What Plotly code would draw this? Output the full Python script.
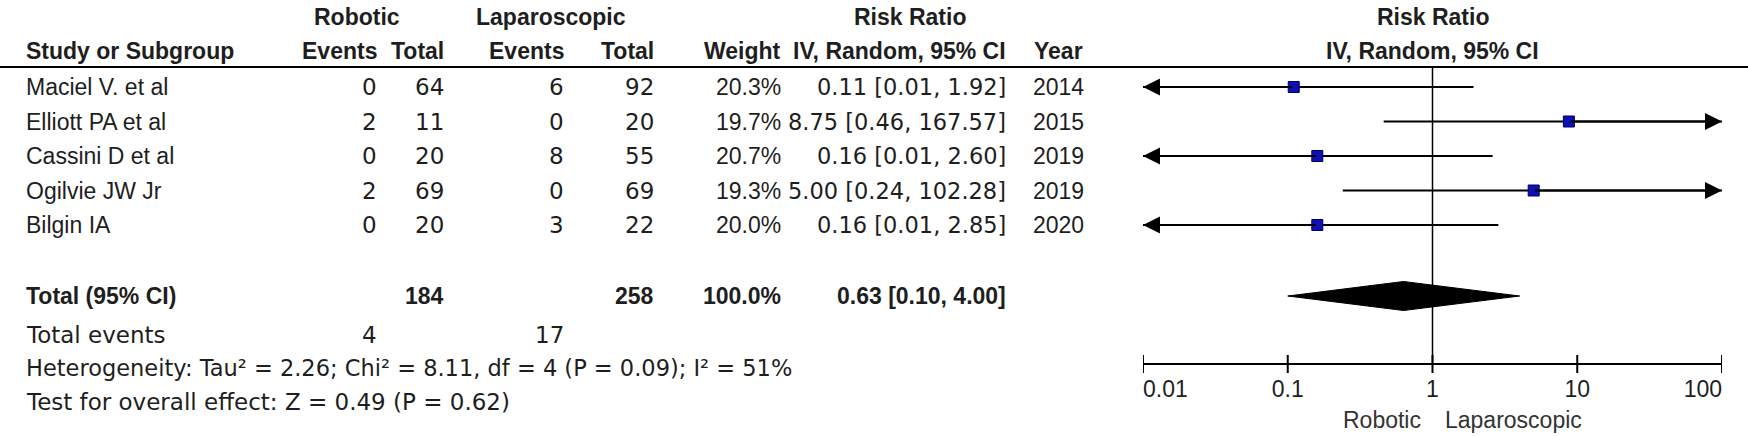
import math
import plotly.graph_objects as go

# ---------------- data ----------------
studies = ["Maciel V. et al", "Elliott PA et al", "Cassini D et al", "Ogilvie JW Jr", "Bilgin IA"]
rob_events = [0, 2, 0, 2, 0]
rob_total = [64, 11, 20, 69, 20]
lap_events = [6, 0, 8, 0, 3]
lap_total = [92, 20, 55, 69, 22]
weights = [20.3, 19.7, 20.7, 19.3, 20.0]
rr = [0.11, 8.75, 0.16, 5.00, 0.16]
ci_lo = [0.01, 0.46, 0.01, 0.24, 0.01]
ci_hi = [1.92, 167.57, 2.60, 102.28, 2.85]
years = [2014, 2015, 2019, 2019, 2020]

total_rob = 184
total_lap = 258
total_weight = 100.0
events_rob = 4
events_lap = 17
pooled_rr = 0.63
pooled_lo = 0.10
pooled_hi = 4.00
heterogeneity = "Heterogeneity: Tau² = 2.26; Chi² = 8.11, df = 4 (P = 0.09); I² = 51%"
overall = "Test for overall effect: Z = 0.49 (P = 0.62)"
axis_ticks = [0.01, 0.1, 1, 10, 100]
tick_labels = ["0.01", "0.1", "1", "10", "100"]
favours_left = "Robotic"
favours_right = "Laparoscopic"

# ---------------- layout constants (pixels) ----------------
W, H = 1748, 436
PX0, PX1 = 1143, 1722          # forest plot horizontal extent
HDR1_Y, HDR2_Y, RULE_Y = 17, 51, 67
ROW0, ROWH = 87, 34.5
TOTAL_Y, EVENTS_Y, HET_Y, TEST_Y = 296, 335, 368, 402
AXIS_Y, TICK_HALF, TICKLAB_Y, FAV_Y = 364, 9, 391, 420
FONT_A = "Liberation Sans, Arial, sans-serif"
FONT_D = "DejaVu Sans, sans-serif"
FS = 23
TXT = "#1e1e1e"
BLUE = "#1010b0"

C_NAME = 24
C_REV, C_RTOT, C_LEV, C_LTOT, C_W, C_CI, C_YEAR = 379, 446, 566, 656, 783, 1008, 1058

fig = go.Figure()
annotations = []


def txt(x, y, s, anchor="right", bold=False, font=FONT_A, size=FS, color=TXT):
    if bold:
        s = "<b>" + s + "</b>"
    annotations.append(dict(
        x=x / W, y=1 - y / H, xref="paper", yref="paper",
        text=s, showarrow=False, xanchor=anchor, yanchor="middle",
        font=dict(family=font, size=size, color=color)))


# headers
txt(357, HDR1_Y, "Robotic", "center", True)
txt(551, HDR1_Y, "Laparoscopic", "center", True)
txt(910, HDR1_Y, "Risk Ratio", "center", True)
txt((PX0 + PX1) / 2, HDR1_Y, "Risk Ratio", "center", True)
txt(C_NAME, HDR2_Y, "Study or Subgroup", "left", True)
txt(C_REV, HDR2_Y, "Events", "right", True)
txt(C_RTOT, HDR2_Y, "Total", "right", True)
txt(C_LEV, HDR2_Y, "Events", "right", True)
txt(C_LTOT, HDR2_Y, "Total", "right", True)
txt(C_W, HDR2_Y, "Weight", "right", True)
txt(C_CI, HDR2_Y, "IV, Random, 95% CI", "right", True)
txt(C_YEAR, HDR2_Y, "Year", "center", True)
txt((PX0 + PX1) / 2, HDR2_Y, "IV, Random, 95% CI", "center", True)

row_y = [ROW0 + i * ROWH for i in range(len(studies))]
for i, name in enumerate(studies):
    y = row_y[i]
    txt(C_NAME, y, name, "left")
    txt(C_REV, y, str(rob_events[i]), font=FONT_D)
    txt(C_RTOT, y, str(rob_total[i]), font=FONT_D)
    txt(C_LEV, y, str(lap_events[i]), font=FONT_D)
    txt(C_LTOT, y, str(lap_total[i]), font=FONT_D)
    txt(C_W, y, f"{weights[i]:.1f}%")
    txt(C_CI, y, f"{rr[i]:.2f} [{ci_lo[i]:.2f}, {ci_hi[i]:.2f}]", font=FONT_D, size=22.5)
    txt(C_YEAR, y, str(years[i]), "center")

txt(C_NAME, TOTAL_Y, "Total (95% CI)", "left", True)
txt(C_RTOT, TOTAL_Y, str(total_rob), "right", True)
txt(C_LTOT, TOTAL_Y, str(total_lap), "right", True)
txt(C_W, TOTAL_Y, f"{total_weight:.1f}%", "right", True)
txt(C_CI, TOTAL_Y, f"{pooled_rr:.2f} [{pooled_lo:.2f}, {pooled_hi:.2f}]", "right", True)
txt(C_NAME, EVENTS_Y, "Total events", "left", font=FONT_D)
txt(C_REV, EVENTS_Y, str(events_rob), font=FONT_D)
txt(C_LEV, EVENTS_Y, str(events_lap), font=FONT_D)
txt(C_NAME, HET_Y, heterogeneity, "left", font=FONT_D, size=22.5)
txt(C_NAME, TEST_Y, overall, "left", font=FONT_D)

# header rule (full width)
fig.add_shape(type="line", xref="paper", yref="paper", x0=0, x1=1,
              y0=1 - RULE_Y / H, y1=1 - RULE_Y / H, line=dict(color="black", width=2))

xmin, xmax = axis_ticks[0], axis_ticks[-1]

# line of no effect
fig.add_trace(go.Scatter(x=[1, 1], y=[RULE_Y, AXIS_Y], mode="lines",
                         line=dict(color="black", width=1.5), hoverinfo="skip"))

# confidence intervals
for i in range(len(studies)):
    y = row_y[i]
    lo = max(ci_lo[i], xmin)
    hi = min(ci_hi[i], xmax)
    fig.add_trace(go.Scatter(x=[lo, hi], y=[y, y], mode="lines",
                             line=dict(color="black", width=2), hoverinfo="skip"))
    for edge, clipped in ((xmin, ci_lo[i] <= xmin), (xmax, ci_hi[i] >= xmax)):
        if clipped:
            annotations.append(dict(x=math.log10(edge), y=y, xref="x", yref="y",
                                    ax=math.log10(rr[i]), ay=y, axref="x", ayref="y",
                                    showarrow=True, arrowhead=2, arrowsize=1.7, arrowwidth=2,
                                    arrowcolor="black", text=""))

# study markers
fig.add_trace(go.Scatter(x=rr, y=row_y, mode="markers",
                         marker=dict(symbol="square", size=11, color=BLUE,
                                     line=dict(color="#00006a", width=1)),
                         hoverinfo="skip"))

# pooled diamond
DH = 14.5
fig.add_trace(go.Scatter(x=[pooled_lo, pooled_rr, pooled_hi, pooled_rr, pooled_lo],
                         y=[TOTAL_Y, TOTAL_Y - DH, TOTAL_Y, TOTAL_Y + DH, TOTAL_Y],
                         mode="lines", fill="toself", fillcolor="black",
                         line=dict(color="black", width=1), hoverinfo="skip"))

# axis line and ticks
tx, ty = [], []
for t in axis_ticks:
    tx += [t, t, None]
    ty += [AXIS_Y - TICK_HALF, AXIS_Y + TICK_HALF, None]
fig.add_trace(go.Scatter(x=[xmin, xmax], y=[AXIS_Y, AXIS_Y], mode="lines",
                         line=dict(color="black", width=2), hoverinfo="skip"))
fig.add_trace(go.Scatter(x=tx, y=ty, mode="lines",
                         line=dict(color="black", width=2), hoverinfo="skip"))
tick_pos = ["middle right"] + ["middle center"] * (len(axis_ticks) - 2) + ["middle left"]
fig.add_trace(go.Scatter(x=axis_ticks, y=[TICKLAB_Y] * len(axis_ticks), mode="text",
                         text=tick_labels, textposition=tick_pos,
                         textfont=dict(family=FONT_A, size=FS, color=TXT),
                         hoverinfo="skip", cliponaxis=False))

# favours labels
annotations.append(dict(x=0, y=FAV_Y, xref="x", yref="y", text=favours_left,
                        showarrow=False, xanchor="right", xshift=-10, yanchor="middle",
                        font=dict(family=FONT_A, size=FS, color="#333333")))
annotations.append(dict(x=0, y=FAV_Y, xref="x", yref="y", text=favours_right,
                        showarrow=False, xanchor="left", xshift=10, yanchor="middle",
                        font=dict(family=FONT_A, size=FS, color="#333333")))

fig.update_layout(
    width=W, height=H, autosize=False,
    margin=dict(l=0, r=0, t=0, b=0, pad=0),
    paper_bgcolor="white", plot_bgcolor="white",
    showlegend=False,
    xaxis=dict(type="log", range=[math.log10(xmin), math.log10(xmax)],
               domain=[PX0 / W, PX1 / W], visible=False, fixedrange=True),
    yaxis=dict(range=[H, 0], domain=[0, 1], visible=False, fixedrange=True),
    annotations=annotations,
)

fig.write_html("out.html", config={"displayModeBar": False},
               post_script="document.body.style.margin='0';document.body.style.overflow='hidden';")
